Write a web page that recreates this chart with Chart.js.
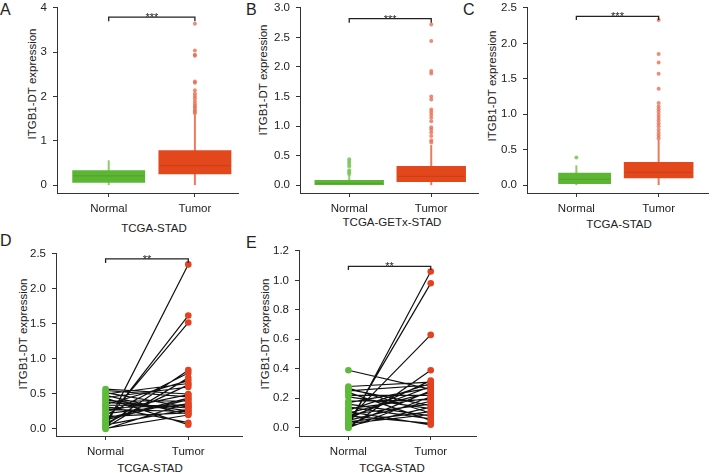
<!DOCTYPE html>
<html>
<head>
<meta charset="utf-8">
<script src="https://cdn.jsdelivr.net/npm/chart.js@4.4.1/dist/chart.umd.min.js"></script>
<style>
  body { margin: 0; width: 712px; height: 473px; background: #fff; position: relative; overflow: hidden;
         font-family: "Liberation Sans", Arial, sans-serif; color: #222; }
  canvas { position: absolute; }
  .lbl { position: absolute; font-size: 16px; line-height: 16px; }
  .xt { position: absolute; font-size: 11.5px; line-height: 11px; white-space: nowrap; transform: translateX(-50%); }
  .yt { position: absolute; font-size: 11.5px; line-height: 11px; white-space: nowrap; transform: translate(-50%, -50%) rotate(-90deg); }
</style>
</head>
<body>
<div class="lbl" style="left:0px;top:2px">A</div>
<div class="lbl" style="left:246px;top:2px">B</div>
<div class="lbl" style="left:463px;top:2px">C</div>
<div class="lbl" style="left:0px;top:233px">D</div>
<div class="lbl" style="left:246px;top:235px">E</div>

<div class="yt" style="left:32px;top:84px">ITGB1-DT expression</div>
<div class="yt" style="left:263px;top:80px">ITGB1-DT expression</div>
<div class="yt" style="left:492px;top:86px">ITGB1-DT expression</div>
<div class="yt" style="left:23px;top:334px">ITGB1-DT expression</div>
<div class="yt" style="left:265px;top:334px">ITGB1-DT expression</div>

<div class="xt" style="left:154px;top:223px">TCGA-STAD</div>
<div class="xt" style="left:392px;top:217px">TCGA-GETx-STAD</div>
<div class="xt" style="left:619px;top:219px">TCGA-STAD</div>
<div class="xt" style="left:150px;top:463px">TCGA-STAD</div>
<div class="xt" style="left:392px;top:463px">TCGA-STAD</div>

<canvas id="cA"></canvas>
<canvas id="cB"></canvas>
<canvas id="cC"></canvas>
<canvas id="cD"></canvas>
<canvas id="cE"></canvas>

<script>
const categories = ['Normal', 'Tumor'];

// Box plots: [lower whisker, Q1, median, Q3, upper whisker]
// A - TCGA-STAD
const aNormalBox = [0.00, 0.06, 0.21, 0.33, 0.56];
const aTumorBox  = [0.00, 0.25, 0.44, 0.78, 1.59];
const aNormalOut = [];
const aTumorOut  = [3.64, 3.04, 2.94, 2.92, 2.34, 2.31, 2.14, 2.07, 2.01, 1.96, 1.90, 1.84, 1.79, 1.75, 1.70, 1.66, 1.62];
const aBracket   = [3.70, 3.79];

// B - TCGA-GETx-STAD
const bNormalBox = [0.00, 0.00, 0.03, 0.08, 0.17];
const bTumorBox  = [0.00, 0.06, 0.15, 0.32, 0.68];
const bNormalOut = [0.44, 0.40, 0.36, 0.32, 0.25, 0.22, 0.19];
const bTumorOut  = [2.72, 2.44, 1.93, 1.89, 1.50, 1.45, 1.28, 1.24, 1.19, 1.14, 1.08, 0.98, 0.94, 0.89, 0.83, 0.76, 0.72];
const bBracket   = [2.75, 2.82];

// C - TCGA-STAD
const cNormalBox = [0.00, 0.02, 0.08, 0.17, 0.28];
const cTumorBox  = [0.00, 0.10, 0.18, 0.32, 0.64];
const cNormalOut = [0.39];
const cTumorOut  = [2.33, 1.85, 1.73, 1.57, 1.36, 1.16, 1.11, 1.07, 1.03, 0.99, 0.95, 0.91, 0.87, 0.83, 0.78, 0.74, 0.70, 0.66];
const cBracket   = [2.33, 2.38];

// D - paired samples (same index = same patient)
const dNormal = [0.03, 0.10, 0.12, 0.05, 0.20, 0.02, 0.35, 0.50, 0.08, 0.45, 0.25, 0.55, 0.15, 0.40, 0.00,
                 0.30, 0.52, 0.06, 0.42, 0.18, 0.48, 0.28, 0.38, 0.22, 0.13, 0.32, 0.44, 0.01, 0.57, 0.34];
const dTumor  = [2.35, 1.62, 1.52, 0.84, 0.80, 0.73, 0.69, 0.65, 0.63, 0.60, 0.49, 0.46, 0.44, 0.40, 0.37,
                 0.34, 0.31, 0.28, 0.26, 0.23, 0.21, 0.25, 0.30, 0.36, 0.42, 0.09, 0.06, 0.20, 0.50, 0.33];
const dBracket = [2.37, 2.43];

// E - paired samples
const eNormal = [0.01, 0.03, 0.06, 0.39, 0.00, 0.28, 0.27, 0.25, 0.24, 0.22, 0.21, 0.17, 0.16, 0.13, 0.12,
                 0.10, 0.09, 0.08, 0.07, 0.05, 0.04, 0.02, 0.01, 0.00, 0.03, 0.11, 0.18, 0.06, 0.14, 0.26];
const eTumor  = [1.06, 0.98, 0.63, 0.26, 0.39, 0.31, 0.10, 0.29, 0.05, 0.22, 0.13, 0.27, 0.08, 0.20, 0.30,
                 0.24, 0.16, 0.03, 0.28, 0.18, 0.11, 0.25, 0.14, 0.21, 0.09, 0.02, 0.19, 0.32, 0.06, 0.15];
const eBracket = [1.07, 1.095];

const INK = '#333';
const GREEN = '#5db633', RED = '#e3481d';
const GREEN_W = '#8dcc6b', RED_W = '#ec7a5e';
const GREEN_M = '#52a52b', RED_M = '#cf3f17';
const RED_OUT = 'rgba(233, 100, 72, 0.75)', GREEN_OUT = 'rgba(120, 195, 85, 0.85)';
const DOT_GREEN = '#5dbb3a', DOT_RED = '#e3411f';
const FONT = '"Liberation Sans", Arial, sans-serif';
const Y_W = 40, X_H = 26, PAD_T = 10;

Chart.defaults.font.family = FONT;
Chart.defaults.font.size = 11.5;
Chart.defaults.color = '#222';

// Layout of each panel (pixels of the plot area) and its axes
const panels = {
  A: {L: 57, R: 242, T: 5, B: 193, xMax: 2.5, yMin: -0.178, yMax: 4, step: 1, dec: 0, sig: '***'},
  B: {L: 300, R: 482, T: 5, B: 193, xMax: 2.57, yMin: -0.133, yMax: 3, step: 0.5, dec: 1, sig: '***'},
  C: {L: 527, R: 712, T: 5, B: 193, xMax: 2.6, yMin: -0.111, yMax: 2.5, step: 0.5, dec: 1, sig: '***'},
  D: {L: 56, R: 246, T: 251, B: 436, xMax: 2.65, yMin: -0.1, yMax: 2.5, step: 0.5, dec: 1, sig: '**'},
  E: {L: 299, R: 480, T: 248, B: 436, xMax: 2.55, yMin: -0.056, yMax: 1.2, step: 0.2, dec: 1, sig: '**'}
};

const sigPlugin = {
  id: 'sig',
  afterDatasetsDraw(chart, args, opts) {
    const {ctx, scales: {x, y}} = chart;
    ctx.save();
    ctx.font = '11px ' + FONT;
    ctx.fillStyle = '#222';
    ctx.textAlign = 'center';
    ctx.textBaseline = 'alphabetic';
    ctx.fillText(opts.text, x.getPixelForValue(1.5), y.getPixelForValue(opts.y) + 4);
    ctx.restore();
  }
};

function bracketSet(br) {
  return {
    type: 'line', order: 1,
    data: [{x: 1, y: br[0]}, {x: 1, y: br[1]}, {x: 2, y: br[1]}, {x: 2, y: br[0]}],
    borderColor: '#222', borderWidth: 1.3, pointRadius: 0, tension: 0
  };
}

// box plot datasets for one panel
function boxSets(p, boxes, outs, widths, shifts) {
  const pxPerUnit = (p.R - p.L) / (p.xMax - 0.4);
  const fills = [GREEN, RED], wh = [GREEN_W, RED_W], med = [GREEN_M, RED_M], out = [GREEN_OUT, RED_OUT];
  const sets = [];
  boxes.forEach((b, i) => {
    const x = i + 1, cx = x + shifts[i], hw = widths[i] / 2;
    sets.push({type: 'line', order: 5, data: [{x, y: b[0]}, {x, y: b[4]}],
      borderColor: wh[i], borderWidth: 2, pointRadius: 0});
    sets.push({type: 'bar', order: 4, data: [{x: cx, y: [b[1], b[3]]}],
      backgroundColor: fills[i], borderWidth: 0, grouped: false,
      barPercentage: 1, categoryPercentage: 1, maxBarThickness: widths[i] * pxPerUnit});
    sets.push({type: 'line', order: 3, data: [{x: cx - hw, y: b[2]}, {x: cx + hw, y: b[2]}],
      borderColor: med[i], borderWidth: 1.2, pointRadius: 0});
    sets.push({type: 'scatter', order: 2, data: outs[i].map(v => ({x, y: v})),
      pointRadius: 2, pointBackgroundColor: out[i], pointBorderWidth: 0});
  });
  return sets;
}

// paired line datasets for one panel
function pairSets(normal, tumor) {
  const lines = [];
  normal.forEach((n, i) => { lines.push({x: 1, y: n}, {x: 2, y: tumor[i]}, {x: 2, y: null}); });
  const dots = normal.map(v => ({x: 1, y: v})).concat(tumor.map(v => ({x: 2, y: v})));
  const colors = normal.map(() => DOT_GREEN).concat(tumor.map(() => DOT_RED));
  return [
    {type: 'line', order: 3, data: lines, borderColor: '#111', borderWidth: 1.2, pointRadius: 0, spanGaps: false},
    {type: 'scatter', order: 2, data: dots, pointRadius: 3.3, pointBackgroundColor: colors, pointBorderWidth: 0}
  ];
}

function makeChart(key, datasets, bracket) {
  const p = panels[key];
  const cv = document.getElementById('c' + key);
  const left = p.L - Y_W, top = p.T - PAD_T;
  cv.width = p.R - left;
  cv.height = p.B - top + X_H;
  cv.style.left = left + 'px';
  cv.style.top = top + 'px';
  datasets.push(bracketSet(bracket));
  new Chart(cv, {
    type: 'scatter',
    data: {datasets},
    plugins: [sigPlugin],
    options: {
      responsive: false, animation: false, events: [],
      layout: {padding: {top: PAD_T, left: 0, right: 0, bottom: 0}},
      plugins: {legend: {display: false}, tooltip: {enabled: false}, sig: {text: p.sig, y: bracket[1]}},
      scales: {
        x: {
          type: 'linear', min: 0.4, max: p.xMax, offset: false,
          grid: {drawOnChartArea: false, tickLength: 4, color: INK, offset: false},
          border: {color: INK, width: 1},
          afterBuildTicks: s => { s.ticks = [{value: 1}, {value: 2}]; },
          afterFit: s => { s.height = X_H; },
          ticks: {callback: v => categories[v - 1], padding: 5, maxRotation: 0, autoSkip: false, color: '#222'}
        },
        y: {
          type: 'linear', min: p.yMin, max: p.yMax,
          grid: {drawOnChartArea: false, tickLength: 4, color: INK},
          border: {color: INK, width: 1},
          afterFit: s => { s.width = Y_W; },
          ticks: {stepSize: p.step, includeBounds: false, padding: 6, color: '#222',
                  callback: v => v.toFixed(p.dec)}
        }
      }
    }
  });
}

const W = [0.82, 0.82], NO_SHIFT = [0, 0];
makeChart('A', boxSets(panels.A, [aNormalBox, aTumorBox], [aNormalOut, aTumorOut], W, NO_SHIFT), aBracket);
makeChart('B', boxSets(panels.B, [bNormalBox, bTumorBox], [bNormalOut, bTumorOut], W, NO_SHIFT), bBracket);
makeChart('C', boxSets(panels.C, [cNormalBox, cTumorBox], [cNormalOut, cTumorOut], [0.62, 0.82], [0.1, 0]), cBracket);
makeChart('D', pairSets(dNormal, dTumor), dBracket);
makeChart('E', pairSets(eNormal, eTumor), eBracket);
</script>
</body>
</html>
